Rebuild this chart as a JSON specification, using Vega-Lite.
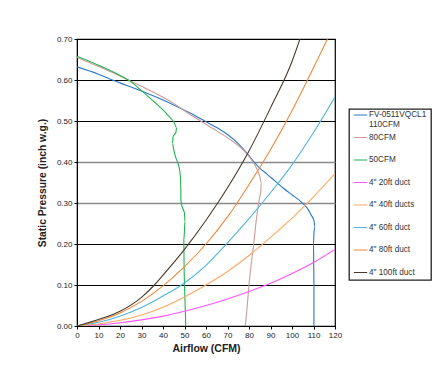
{
  "$schema": "https://vega.github.io/schema/vega-lite/v6.json",
  "autosize": "none",
  "width": 258,
  "height": 287,
  "padding": {"left": 77, "top": 39, "right": 110, "bottom": 63},
  "background": "white",
  "config": {
    "font": "Liberation Sans",
    "view": {"stroke": "black", "strokeWidth": 1.2},
    "axis": {
      "labelFont": "Liberation Sans",
      "labelFontSize": 8,
      "labelColor": "#222",
      "titleFont": "Liberation Sans",
      "titleFontWeight": "bold",
      "titleColor": "#222",
      "domainColor": "black",
      "tickColor": "black",
      "tickSize": 3
    }
  },
  "datasets": {
    "curves": [
      {"s": "FV-0511VQCL1|110CFM", "i": 1, "x": 0, "y": 0.632},
      {"s": "FV-0511VQCL1|110CFM", "i": 2, "x": 10, "y": 0.614},
      {"s": "FV-0511VQCL1|110CFM", "i": 3, "x": 15, "y": 0.603},
      {"s": "FV-0511VQCL1|110CFM", "i": 4, "x": 20, "y": 0.593},
      {"s": "FV-0511VQCL1|110CFM", "i": 5, "x": 30, "y": 0.573},
      {"s": "FV-0511VQCL1|110CFM", "i": 6, "x": 40, "y": 0.551},
      {"s": "FV-0511VQCL1|110CFM", "i": 7, "x": 45, "y": 0.539},
      {"s": "FV-0511VQCL1|110CFM", "i": 8, "x": 50, "y": 0.526},
      {"s": "FV-0511VQCL1|110CFM", "i": 9, "x": 55, "y": 0.513},
      {"s": "FV-0511VQCL1|110CFM", "i": 10, "x": 60, "y": 0.498},
      {"s": "FV-0511VQCL1|110CFM", "i": 11, "x": 65, "y": 0.484},
      {"s": "FV-0511VQCL1|110CFM", "i": 12, "x": 70, "y": 0.467},
      {"s": "FV-0511VQCL1|110CFM", "i": 13, "x": 75, "y": 0.445},
      {"s": "FV-0511VQCL1|110CFM", "i": 14, "x": 79, "y": 0.422},
      {"s": "FV-0511VQCL1|110CFM", "i": 15, "x": 82, "y": 0.402},
      {"s": "FV-0511VQCL1|110CFM", "i": 16, "x": 85, "y": 0.385},
      {"s": "FV-0511VQCL1|110CFM", "i": 17, "x": 88.5, "y": 0.37},
      {"s": "FV-0511VQCL1|110CFM", "i": 18, "x": 92, "y": 0.354},
      {"s": "FV-0511VQCL1|110CFM", "i": 19, "x": 96, "y": 0.336},
      {"s": "FV-0511VQCL1|110CFM", "i": 20, "x": 100, "y": 0.32},
      {"s": "FV-0511VQCL1|110CFM", "i": 21, "x": 104, "y": 0.304},
      {"s": "FV-0511VQCL1|110CFM", "i": 22, "x": 107, "y": 0.288},
      {"s": "FV-0511VQCL1|110CFM", "i": 23, "x": 109, "y": 0.27},
      {"s": "FV-0511VQCL1|110CFM", "i": 24, "x": 110.3, "y": 0.255},
      {"s": "FV-0511VQCL1|110CFM", "i": 25, "x": 110.6, "y": 0.242},
      {"s": "FV-0511VQCL1|110CFM", "i": 26, "x": 110.2, "y": 0.225},
      {"s": "FV-0511VQCL1|110CFM", "i": 27, "x": 110, "y": 0.2},
      {"s": "FV-0511VQCL1|110CFM", "i": 28, "x": 110.1, "y": 0.15},
      {"s": "FV-0511VQCL1|110CFM", "i": 29, "x": 110.2, "y": 0.1},
      {"s": "FV-0511VQCL1|110CFM", "i": 30, "x": 110.2, "y": 0.05},
      {"s": "FV-0511VQCL1|110CFM", "i": 31, "x": 110.2, "y": 0},

      {"s": "80CFM", "i": 1, "x": 0, "y": 0.655},
      {"s": "80CFM", "i": 2, "x": 10, "y": 0.633},
      {"s": "80CFM", "i": 3, "x": 20, "y": 0.61},
      {"s": "80CFM", "i": 4, "x": 25, "y": 0.597},
      {"s": "80CFM", "i": 5, "x": 30, "y": 0.585},
      {"s": "80CFM", "i": 6, "x": 40, "y": 0.558},
      {"s": "80CFM", "i": 7, "x": 45, "y": 0.543},
      {"s": "80CFM", "i": 8, "x": 50, "y": 0.525},
      {"s": "80CFM", "i": 9, "x": 57.5, "y": 0.5},
      {"s": "80CFM", "i": 10, "x": 65, "y": 0.476},
      {"s": "80CFM", "i": 11, "x": 72, "y": 0.452},
      {"s": "80CFM", "i": 12, "x": 76, "y": 0.436},
      {"s": "80CFM", "i": 13, "x": 79, "y": 0.42},
      {"s": "80CFM", "i": 14, "x": 81.5, "y": 0.403},
      {"s": "80CFM", "i": 15, "x": 83.5, "y": 0.385},
      {"s": "80CFM", "i": 16, "x": 85, "y": 0.365},
      {"s": "80CFM", "i": 17, "x": 85.7, "y": 0.35},
      {"s": "80CFM", "i": 18, "x": 85.5, "y": 0.33},
      {"s": "80CFM", "i": 19, "x": 84.8, "y": 0.31},
      {"s": "80CFM", "i": 20, "x": 84.2, "y": 0.29},
      {"s": "80CFM", "i": 21, "x": 83.2, "y": 0.25},
      {"s": "80CFM", "i": 22, "x": 82.2, "y": 0.2},
      {"s": "80CFM", "i": 23, "x": 81, "y": 0.15},
      {"s": "80CFM", "i": 24, "x": 80, "y": 0.1},
      {"s": "80CFM", "i": 25, "x": 79.2, "y": 0.05},
      {"s": "80CFM", "i": 26, "x": 78.3, "y": 0},

      {"s": "50CFM", "i": 1, "x": 0, "y": 0.658},
      {"s": "50CFM", "i": 2, "x": 10, "y": 0.636},
      {"s": "50CFM", "i": 3, "x": 20, "y": 0.611},
      {"s": "50CFM", "i": 4, "x": 25, "y": 0.596},
      {"s": "50CFM", "i": 5, "x": 30, "y": 0.574},
      {"s": "50CFM", "i": 6, "x": 35, "y": 0.551},
      {"s": "50CFM", "i": 7, "x": 40, "y": 0.527},
      {"s": "50CFM", "i": 8, "x": 43, "y": 0.51},
      {"s": "50CFM", "i": 9, "x": 45, "y": 0.498},
      {"s": "50CFM", "i": 10, "x": 46.3, "y": 0.484},
      {"s": "50CFM", "i": 11, "x": 46, "y": 0.472},
      {"s": "50CFM", "i": 12, "x": 44.7, "y": 0.462},
      {"s": "50CFM", "i": 13, "x": 44.4, "y": 0.445},
      {"s": "50CFM", "i": 14, "x": 45, "y": 0.43},
      {"s": "50CFM", "i": 15, "x": 45.8, "y": 0.413},
      {"s": "50CFM", "i": 16, "x": 47.4, "y": 0.389},
      {"s": "50CFM", "i": 17, "x": 48.1, "y": 0.364},
      {"s": "50CFM", "i": 18, "x": 48.3, "y": 0.33},
      {"s": "50CFM", "i": 19, "x": 48.3, "y": 0.307},
      {"s": "50CFM", "i": 20, "x": 48.9, "y": 0.291},
      {"s": "50CFM", "i": 21, "x": 50, "y": 0.275},
      {"s": "50CFM", "i": 22, "x": 50.2, "y": 0.255},
      {"s": "50CFM", "i": 23, "x": 50, "y": 0.235},
      {"s": "50CFM", "i": 24, "x": 49.7, "y": 0.21},
      {"s": "50CFM", "i": 25, "x": 49.8, "y": 0.15},
      {"s": "50CFM", "i": 26, "x": 50, "y": 0.1},
      {"s": "50CFM", "i": 27, "x": 50.3, "y": 0.05},
      {"s": "50CFM", "i": 28, "x": 50.6, "y": 0},

      {"s": "4\" 20ft duct", "i": 1, "x": 0, "y": 0},
      {"s": "4\" 20ft duct", "i": 2, "x": 10, "y": 0.003},
      {"s": "4\" 20ft duct", "i": 3, "x": 20, "y": 0.008},
      {"s": "4\" 20ft duct", "i": 4, "x": 30, "y": 0.015},
      {"s": "4\" 20ft duct", "i": 5, "x": 40, "y": 0.024},
      {"s": "4\" 20ft duct", "i": 6, "x": 50, "y": 0.036},
      {"s": "4\" 20ft duct", "i": 7, "x": 60, "y": 0.05},
      {"s": "4\" 20ft duct", "i": 8, "x": 70, "y": 0.066},
      {"s": "4\" 20ft duct", "i": 9, "x": 80, "y": 0.084},
      {"s": "4\" 20ft duct", "i": 10, "x": 90, "y": 0.104},
      {"s": "4\" 20ft duct", "i": 11, "x": 100, "y": 0.128},
      {"s": "4\" 20ft duct", "i": 12, "x": 110, "y": 0.155},
      {"s": "4\" 20ft duct", "i": 13, "x": 120, "y": 0.187},

      {"s": "4\" 40ft ducts", "i": 1, "x": 0, "y": 0},
      {"s": "4\" 40ft ducts", "i": 2, "x": 10, "y": 0.005},
      {"s": "4\" 40ft ducts", "i": 3, "x": 20, "y": 0.014},
      {"s": "4\" 40ft ducts", "i": 4, "x": 30, "y": 0.027},
      {"s": "4\" 40ft ducts", "i": 5, "x": 40, "y": 0.046},
      {"s": "4\" 40ft ducts", "i": 6, "x": 50, "y": 0.071},
      {"s": "4\" 40ft ducts", "i": 7, "x": 60, "y": 0.1},
      {"s": "4\" 40ft ducts", "i": 8, "x": 70, "y": 0.133},
      {"s": "4\" 40ft ducts", "i": 9, "x": 80, "y": 0.172},
      {"s": "4\" 40ft ducts", "i": 10, "x": 90, "y": 0.216},
      {"s": "4\" 40ft ducts", "i": 11, "x": 100, "y": 0.263},
      {"s": "4\" 40ft ducts", "i": 12, "x": 110, "y": 0.315},
      {"s": "4\" 40ft ducts", "i": 13, "x": 120, "y": 0.372},

      {"s": "4\" 60ft duct", "i": 1, "x": 0, "y": 0},
      {"s": "4\" 60ft duct", "i": 2, "x": 10, "y": 0.009},
      {"s": "4\" 60ft duct", "i": 3, "x": 20, "y": 0.024},
      {"s": "4\" 60ft duct", "i": 4, "x": 30, "y": 0.045},
      {"s": "4\" 60ft duct", "i": 5, "x": 40, "y": 0.073},
      {"s": "4\" 60ft duct", "i": 6, "x": 50, "y": 0.105},
      {"s": "4\" 60ft duct", "i": 7, "x": 60, "y": 0.148},
      {"s": "4\" 60ft duct", "i": 8, "x": 70, "y": 0.203},
      {"s": "4\" 60ft duct", "i": 9, "x": 80, "y": 0.262},
      {"s": "4\" 60ft duct", "i": 10, "x": 90, "y": 0.325},
      {"s": "4\" 60ft duct", "i": 11, "x": 100, "y": 0.393},
      {"s": "4\" 60ft duct", "i": 12, "x": 110, "y": 0.472},
      {"s": "4\" 60ft duct", "i": 13, "x": 120, "y": 0.559},

      {"s": "4\" 80ft duct", "i": 1, "x": 0, "y": 0},
      {"s": "4\" 80ft duct", "i": 2, "x": 10, "y": 0.013},
      {"s": "4\" 80ft duct", "i": 3, "x": 20, "y": 0.032},
      {"s": "4\" 80ft duct", "i": 4, "x": 30, "y": 0.06},
      {"s": "4\" 80ft duct", "i": 5, "x": 40, "y": 0.098},
      {"s": "4\" 80ft duct", "i": 6, "x": 50, "y": 0.145},
      {"s": "4\" 80ft duct", "i": 7, "x": 60, "y": 0.2},
      {"s": "4\" 80ft duct", "i": 8, "x": 70, "y": 0.266},
      {"s": "4\" 80ft duct", "i": 9, "x": 80, "y": 0.345},
      {"s": "4\" 80ft duct", "i": 10, "x": 90, "y": 0.43},
      {"s": "4\" 80ft duct", "i": 11, "x": 100, "y": 0.525},
      {"s": "4\" 80ft duct", "i": 12, "x": 110, "y": 0.63},
      {"s": "4\" 80ft duct", "i": 13, "x": 116.5, "y": 0.7},

      {"s": "4\" 100ft duct", "i": 1, "x": 0, "y": 0},
      {"s": "4\" 100ft duct", "i": 2, "x": 10, "y": 0.016},
      {"s": "4\" 100ft duct", "i": 3, "x": 20, "y": 0.036},
      {"s": "4\" 100ft duct", "i": 4, "x": 30, "y": 0.07},
      {"s": "4\" 100ft duct", "i": 5, "x": 36, "y": 0.1},
      {"s": "4\" 100ft duct", "i": 6, "x": 40, "y": 0.124},
      {"s": "4\" 100ft duct", "i": 7, "x": 50, "y": 0.187},
      {"s": "4\" 100ft duct", "i": 8, "x": 60, "y": 0.258},
      {"s": "4\" 100ft duct", "i": 9, "x": 70, "y": 0.337},
      {"s": "4\" 100ft duct", "i": 10, "x": 80, "y": 0.427},
      {"s": "4\" 100ft duct", "i": 11, "x": 90, "y": 0.532},
      {"s": "4\" 100ft duct", "i": 12, "x": 100, "y": 0.645},
      {"s": "4\" 100ft duct", "i": 13, "x": 103.7, "y": 0.7}
    ]
  },
  "data": {"name": "curves"},
  "mark": {"type": "line", "strokeWidth": 1.1, "interpolate": "monotone", "clip": true},
  "encoding": {
    "x": {
      "field": "x", "type": "quantitative",
      "scale": {"domain": [0, 120], "nice": false},
      "axis": {
        "values": [0, 10, 20, 30, 40, 50, 60, 70, 80, 90, 100, 110, 120],
        "title": "Airflow (CFM)", "titleFontSize": 10.5, "titlePadding": 4,
        "labelPadding": 2, "grid": false, "labelFlush": false
      }
    },
    "y": {
      "field": "y", "type": "quantitative",
      "scale": {"domain": [0, 0.7], "nice": false},
      "axis": {
        "values": [0, 0.1, 0.2, 0.3, 0.4, 0.5, 0.6, 0.7],
        "format": ".2f",
        "title": "Static Pressure (inch w.g.)", "titleFontSize": 10.3, "titlePadding": 9,
        "labelPadding": 2, "labelFlush": false,
        "grid": true,
        "gridColor": {"condition": {"test": "datum.value == 0.3 || datum.value == 0.4", "value": "#8a8a8a"}, "value": "black"},
        "gridWidth": {"condition": {"test": "datum.value == 0.3 || datum.value == 0.4", "value": 1.6}, "value": 1},
        "gridOpacity": 1
      }
    },
    "order": {"field": "i", "type": "quantitative"},
    "color": {
      "field": "s", "type": "nominal",
      "scale": {
        "domain": ["FV-0511VQCL1|110CFM", "80CFM", "50CFM", "4\" 20ft duct", "4\" 40ft ducts", "4\" 60ft duct", "4\" 80ft duct", "4\" 100ft duct"],
        "range": ["#2a78c8", "#cc9a98", "#1fb352", "#ff55ff", "#ffa860", "#4fb6d8", "#f0883a", "#4a3a28"]
      },
      "legend": {
        "title": null,
        "orient": "none",
        "legendX": 272,
        "legendY": 70,
        "labelExpr": "split(datum.label, '|')",
        "labelFont": "Liberation Sans",
        "labelFontSize": 8.2,
        "labelColor": "#333",
        "labelBaseline": "top",
        "symbolType": "stroke",
        "symbolSize": 180,
        "symbolStrokeWidth": 1.2,
        "labelOffset": 1,
        "clipHeight": 4,
        "gridAlign": "all",
        "rowPadding": 3.5,
        "padding": 4,
        "strokeColor": "#222",
        "fillColor": "white",
        "encode": {
          "legend": {"update": {"strokeWidth": {"value": 1.3}}},
          "labels": {"update": {"dy": {"value": -4}}}
        }
      }
    }
  }
}
